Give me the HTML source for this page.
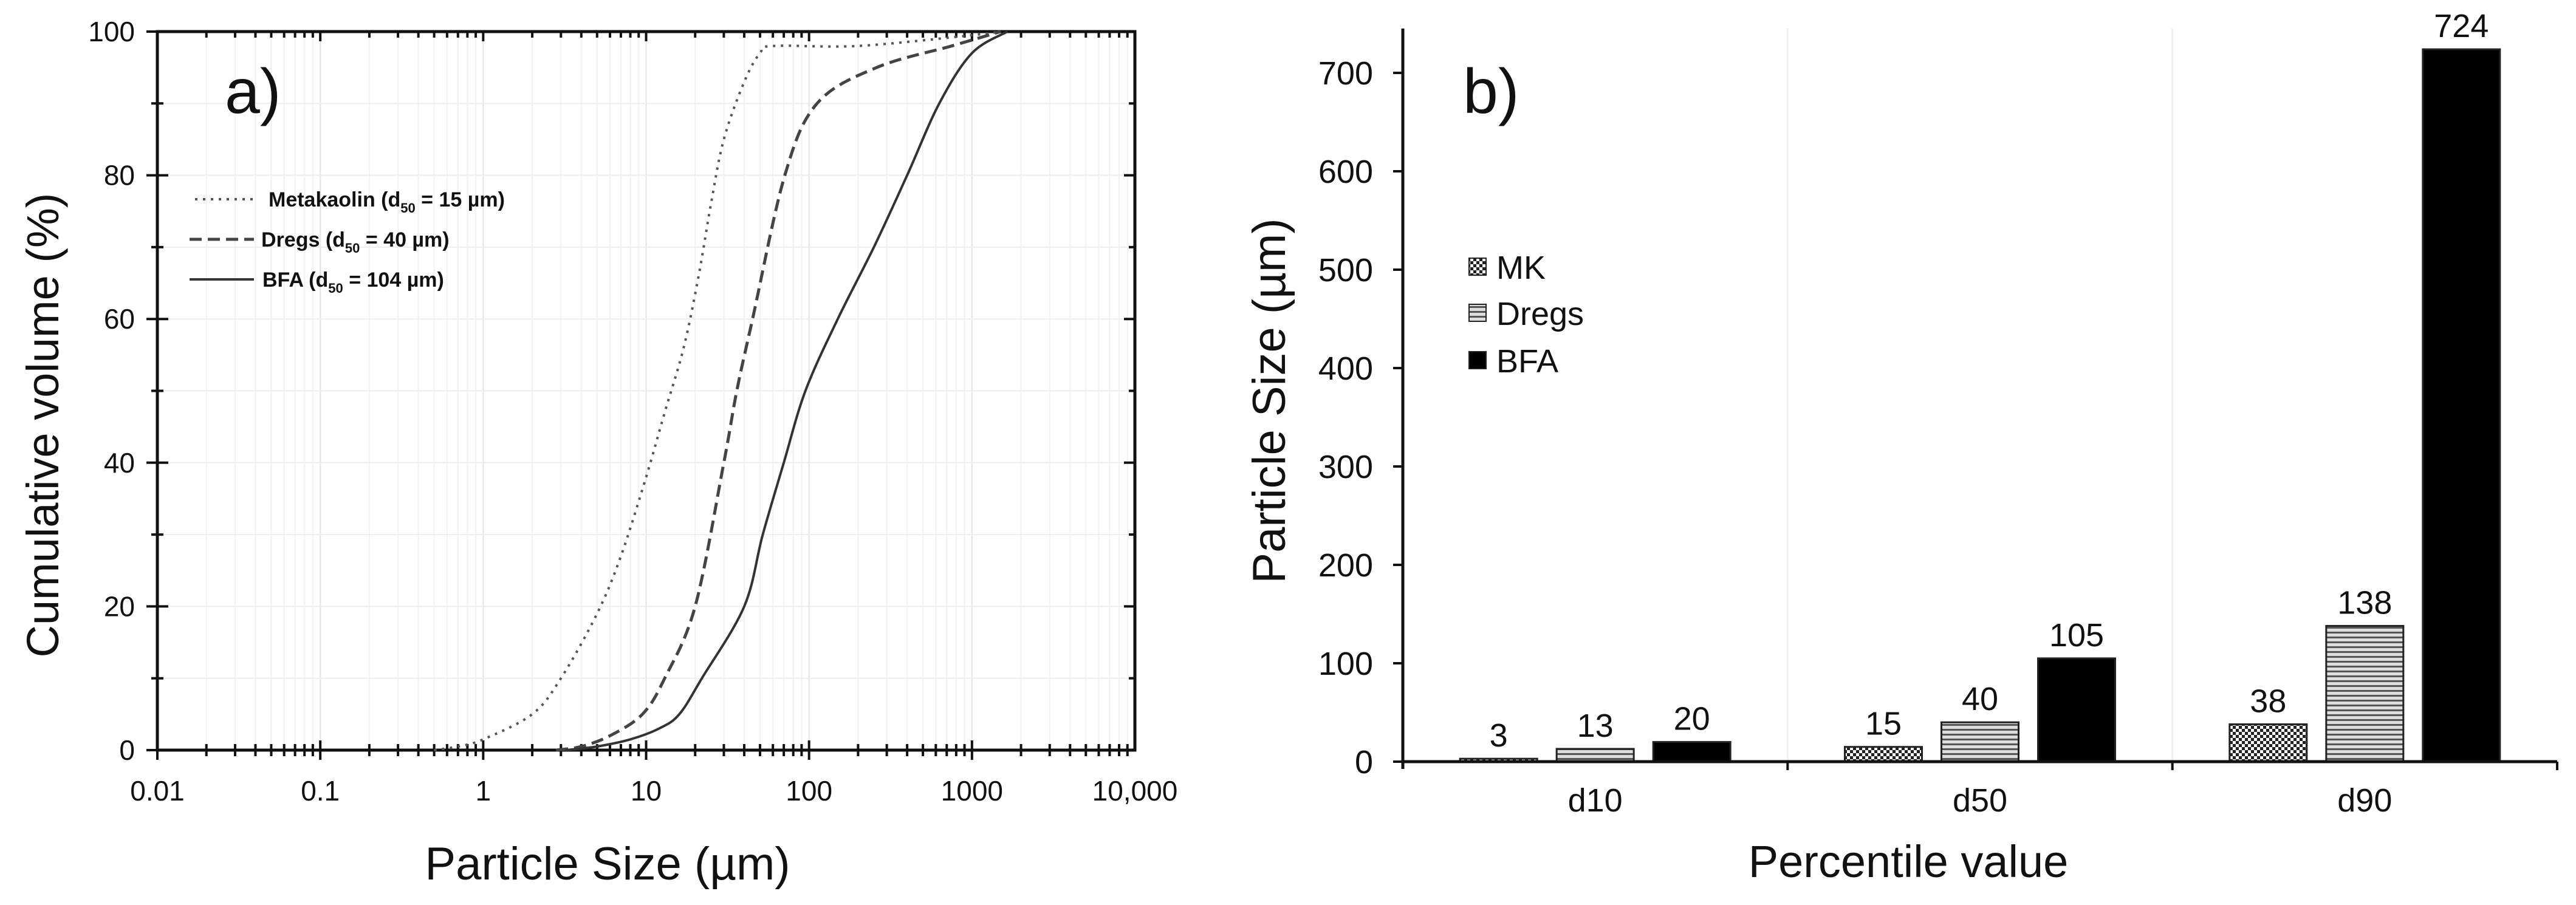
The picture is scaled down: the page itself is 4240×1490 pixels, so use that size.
<!DOCTYPE html>
<html><head><meta charset="utf-8">
<style>
html,body{margin:0;padding:0;background:#fff;}
svg{display:block;}
text{font-family:"Liberation Sans",sans-serif;fill:#111;}
</style></head>
<body>
<svg id="chart" width="4240" height="1490" viewBox="0 0 4240 1490" xmlns="http://www.w3.org/2000/svg">
<defs>
<pattern id="checker" width="10" height="10" patternUnits="userSpaceOnUse">
<rect width="10" height="10" fill="#fff"/><rect width="5" height="5" fill="#222"/><rect x="5" y="5" width="5" height="5" fill="#222"/>
</pattern>
<pattern id="hstripe" width="8" height="8" patternUnits="userSpaceOnUse">
<rect width="8" height="8" fill="#ddd"/><rect width="8" height="3" fill="#555"/>
</pattern>
</defs>
<g id="left"></g>
<g id="right"></g>
</svg>
<script>
// ---- Left chart data ----
const mkSize = [0.5,0.7,1,2,3,5,7,10,13,17,21,25,30,40,50,60,200,1000,1500];
const mkPct  = [0,0.5,1.5,5,10,19,27,38,47,56,66,76,85,93,97,98,98,99.5,100];
const drSize = [2.8,4,6,9.5,13,20,30,36,45,71,112,260,750,1500];
const drPct  = [0,0.5,2,5,10,20,40,50,60,80,90,95,98,100];
const bfSize = [3.2,5,8,12,16,22,40,52,70,95,150,250,400,630,1000,1650];
const bfPct  = [0,0.5,1.5,3,5,10,20,30,40,50,60,70,80,90,97,100];
const xTickVals = [0.01,0.1,1,10,100,1000,10000];
const xTickLabels = ["0.01","0.1","1","10","100","1000","10,000"];
const yTickVals = [0,20,40,60,80,100];
const legendLabels = ["Metakaolin (d","Dregs (d","BFA (d"];
const legendVals = [" = 15 µm)"," = 40 µm)"," = 104 µm)"];

// ---- Right chart data ----
const categories = ["d10","d50","d90"];
const seriesNames = ["MK","Dregs","BFA"];
const mkVals = [3,15,38];
const dregsVals = [13,40,138];
const bfaVals = [20,105,724];
const barTicks = [0,100,200,300,400,500,600,700];

const NS="http://www.w3.org/2000/svg";
function mk(parent,tag,attrs,txt){const e=document.createElementNS(NS,tag);for(const k in attrs)e.setAttribute(k,attrs[k]);if(txt!==undefined)e.textContent=txt;parent.appendChild(e);return e;}

// Left axes
const L={x0:259,x1:1868,y0:1235,y1:52};
function lx(v){return L.x0+(Math.log10(v)+2)/6*(L.x1-L.x0);}
function ly(p){return L.y0-p/100*(L.y0-L.y1);}
const lg=document.getElementById('left');
for(let d=-2;d<4;d++){for(let m=1;m<10;m++){const v=Math.pow(10,d)*m;const x=lx(v);
 const g=mk(lg,'line',{x1:x,x2:x,y1:L.y1,y2:L.y0,stroke:m===1?'#e4e4e4':'#f2f2f2','stroke-width':2});
 }}
for(let p=10;p<100;p+=10){const g=mk(lg,'line',{x1:L.x0,x2:L.x1,y1:ly(p),y2:ly(p),stroke:'#eeeeee','stroke-width':2});
 }
const box=mk(lg,'rect',{x:L.x0,y:L.y1,width:L.x1-L.x0,height:L.y0-L.y1,fill:'none',stroke:'#111','stroke-width':5});

for(let d=-2;d<4;d++){for(let m=1;m<10;m++){const x=lx(Math.pow(10,d)*m);const len=m===1?16:10;
 mk(lg,'line',{x1:x,x2:x,y1:L.y0-len,y2:L.y0+len,stroke:'#111','stroke-width':4});
 mk(lg,'line',{x1:x,x2:x,y1:L.y1,y2:L.y1+len,stroke:'#111','stroke-width':4});}}
xTickVals.forEach((v,i)=>{const t=mk(lg,'text',{x:lx(v),y:1318,'font-size':46,'text-anchor':'middle'},xTickLabels[i]);
 });
for(let p=0;p<=100;p+=10){const y=ly(p);const len=p%20===0?18:10;
 mk(lg,'line',{x1:L.x0-len,x2:L.x0+len,y1:y,y2:y,stroke:'#111','stroke-width':4});
 mk(lg,'line',{x1:L.x1-len,x2:L.x1,y1:y,y2:y,stroke:'#111','stroke-width':4});}
yTickVals.forEach(v=>{const t=mk(lg,'text',{x:222,y:ly(v)+16,'font-size':46,'text-anchor':'end'},String(v));
 });
let t=mk(lg,'text',{x:0,y:0,'font-size':74,'text-anchor':'middle',transform:'translate(96,700) rotate(-90)'},'Cumulative volume (%)');

t=mk(lg,'text',{x:1000,y:1448,'font-size':76,'text-anchor':'middle'},'Particle Size (µm)');

t=mk(lg,'text',{x:370,y:186,'font-size':104},'a)');

const styles=[{dash:'4 9',w:4,c:'#555'},{dash:'20 10',w:5,c:'#444'},{dash:'',w:4,c:'#333'}];
const sets=[[mkSize,mkPct],[drSize,drPct],[bfSize,bfPct]];
const curveNames=['metakaolin-curve','dregs-curve','bfa-curve'];
function smoothPath(xs,ys){let d='M'+xs[0].toFixed(1)+','+ys[0].toFixed(1);
 for(let i=0;i<xs.length-1;i++){const i0=Math.max(0,i-1),i3=Math.min(xs.length-1,i+2);
  const c1x=xs[i]+(xs[i+1]-xs[i0])/6,c1y=ys[i]+(ys[i+1]-ys[i0])/6;
  const c2x=xs[i+1]-(xs[i3]-xs[i])/6,c2y=ys[i+1]-(ys[i3]-ys[i])/6;
  d+='C'+c1x.toFixed(1)+','+c1y.toFixed(1)+' '+c2x.toFixed(1)+','+c2y.toFixed(1)+' '+xs[i+1].toFixed(1)+','+ys[i+1].toFixed(1);}
 return d;}
sets.forEach((s,i)=>{const xs=s[0].map(lx),ys=s[1].map(ly);
 const p=mk(lg,'path',{d:smoothPath(xs,ys),fill:'none',stroke:styles[i].c,'stroke-width':styles[i].w,'stroke-dasharray':styles[i].dash,'stroke-linejoin':'round'});
 });
const legY=[328,394,460];const legX0=[321,312,312],legX1=[416,418,418],legTx=[442,430,432];
legendLabels.forEach((lab,i)=>{
 const g=mk(lg,'g',{});
 mk(g,'line',{x1:legX0[i],x2:legX1[i],y1:legY[i],y2:legY[i],stroke:styles[i].c,'stroke-width':styles[i].w,'stroke-dasharray':styles[i].dash});
 const tx=mk(g,'text',{x:legTx[i],y:legY[i]+12,'font-size':34,'font-weight':'bold',fill:'#333'});
 tx.appendChild(document.createTextNode(lab));
 mk(tx,'tspan',{'font-size':22,dy:10},'50');
 mk(tx,'tspan',{dy:-10},legendVals[i]);
});

// Right chart
const R={x0:2309,x1:4209,y0:1254,y1:47};
const pxPer=162/100;
function ry(v){return R.y0-v*pxPer;}
const cw=(R.x1-R.x0)/categories.length;
const rg=document.getElementById('right');
for(let i=1;i<categories.length;i++){const x=R.x0+cw*i;mk(rg,'line',{x1:x,x2:x,y1:R.y1,y2:R.y0,stroke:'#f0f0f0','stroke-width':3});}
const fills=['url(#checker)','url(#hstripe)','#000'];
const allVals=[mkVals,dregsVals,bfaVals];
const bw=127,step=159;
categories.forEach((c,ci)=>{const cx=R.x0+cw*(ci+0.5);
 allVals.forEach((vals,si)=>{const x=cx+(si-1)*step-bw/2;const y=ry(vals[ci]);
  const b=mk(rg,'rect',{x:x,y:y,width:bw,height:R.y0-y,fill:fills[si],stroke:'#222','stroke-width':3});
  
  const l=mk(rg,'text',{x:x+bw/2,y:y-20,'font-size':54,'text-anchor':'middle'},String(vals[ci]));
  });
 const ct=mk(rg,'text',{x:cx,y:1336,'font-size':54,'text-anchor':'middle'},c);
 });
let a=mk(rg,'line',{x1:R.x0,x2:R.x0,y1:R.y1,y2:R.y0+12,stroke:'#111','stroke-width':5});

a=mk(rg,'line',{x1:R.x0,x2:R.x1,y1:R.y0,y2:R.y0,stroke:'#111','stroke-width':5});

for(let i=1;i<=categories.length;i++){const x=R.x0+cw*i;mk(rg,'line',{x1:x,x2:x,y1:R.y0,y2:R.y0+14,stroke:'#111','stroke-width':4});}
barTicks.forEach(v=>{mk(rg,'line',{x1:R.x0-16,x2:R.x0,y1:ry(v),y2:ry(v),stroke:'#111','stroke-width':4});
 const tl=mk(rg,'text',{x:2260,y:ry(v)+19,'font-size':54,'text-anchor':'end'},String(v));
 });
t=mk(rg,'text',{x:0,y:0,'font-size':76,'text-anchor':'middle',transform:'translate(2115,660) rotate(-90)'},'Particle Size (µm)');

t=mk(rg,'text',{x:3141,y:1444,'font-size':74,'text-anchor':'middle'},'Percentile value');

t=mk(rg,'text',{x:2408,y:186,'font-size':104},'b)');

const lgy=[440,516,594];
seriesNames.forEach((n,i)=>{const g=mk(rg,'g',{});
 
 mk(g,'rect',{x:2418,y:lgy[i]-15,width:28,height:28,fill:fills[i],stroke:'#222','stroke-width':2});
 mk(g,'text',{x:2463,y:lgy[i]+19,'font-size':54},n);});
</script>
</body></html>
